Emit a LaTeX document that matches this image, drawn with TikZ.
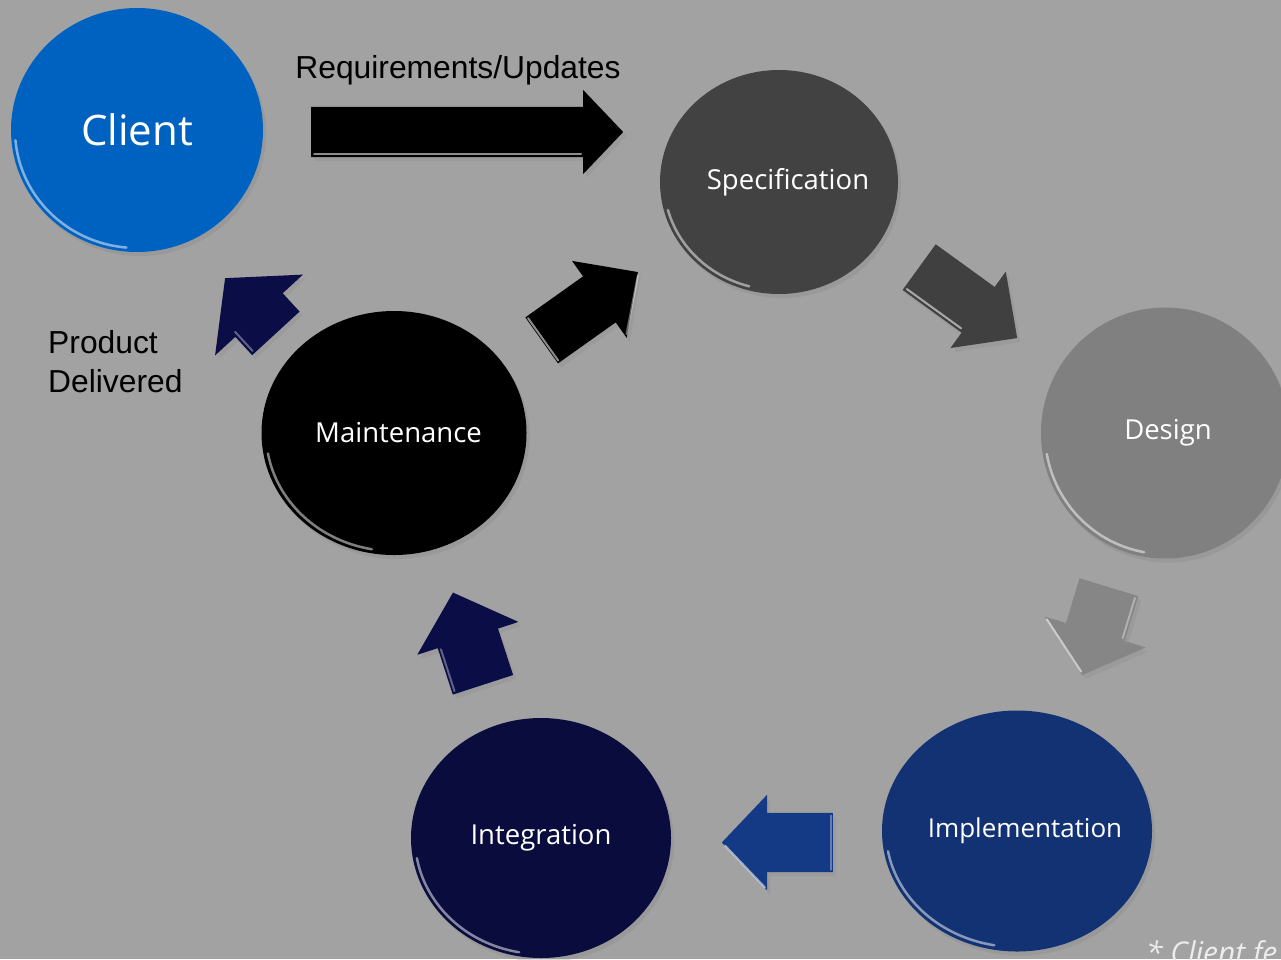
\documentclass[tikz,border=0pt]{standalone}
\usepackage{fontspec}
\setmainfont{Open Sans}
\newfontfamily\arialf{Liberation Sans}
\usetikzlibrary{shapes.geometric,shapes.arrows,shadows,calc}
\definecolor{bg}{RGB}{162,162,162}
\definecolor{clientblue}{RGB}{0,98,192}
\definecolor{specgray}{RGB}{66,66,66}
\definecolor{designgray}{RGB}{128,128,128}
\definecolor{implblue}{RGB}{18,50,116}
\definecolor{integnavy}{RGB}{10,12,62}
\definecolor{arrowgray}{RGB}{64,64,64}
\definecolor{arrowlight}{RGB}{134,134,134}
\definecolor{arrowblue}{RGB}{21,58,133}
\definecolor{arrownavy}{RGB}{11,13,70}
\definecolor{notecol}{RGB}{236,236,236}
\newcommand\rimlight[5]{%
  \draw[white, opacity=.5, line width=2.5pt, line cap=round]
    ([shift={(#4:#2 and #3)}]#1.center) arc[start angle=#4, end angle=#5, x radius=#2, y radius=#3];}
\newcommand\ctext[2]{\makebox[0pt]{\hspace*{#1}#2}}
\begin{document}
\begin{tikzpicture}[x=1pt,y=1pt,
  circ/.style={ellipse, inner sep=0pt, text=white,
    font=\fontsize{27.5}{33}\selectfont,
    drop shadow={shadow xshift=3pt, shadow yshift=-4pt, opacity=.25}},
  barrow/.style={single arrow, inner xsep=0pt, single arrow head indent=0pt,
    anchor=tail,
    drop shadow={shadow xshift=3pt, shadow yshift=-4pt, opacity=.2}},
  hl/.style={white, opacity=.55, line width=2pt, line cap=round},
  lbl/.style={font=\arialf\fontsize{31.8}{39}\selectfont, text=black, inner sep=0pt},
]
\fill[bg] (0,0) rectangle (1281,-959);
\useasboundingbox (0,0) rectangle (1281,-959);

% circles
\node[circ, fill=clientblue, minimum width=252pt, minimum height=244pt,
  font=\fontsize{42}{50}\selectfont] (client) at (137,-130) {\ctext{0pt}{Client}};
\node[circ, fill=specgray, minimum width=238pt, minimum height=224pt] (spec) at (779,-182) {\ctext{18pt}{Specification}};
\node[circ, fill=designgray, minimum width=248pt, minimum height=251pt] (design) at (1165,-433) {\ctext{6pt}{Design}};
\node[circ, fill=implblue, minimum width=270pt, minimum height=241pt,
  font=\fontsize{26}{31}\selectfont] (impl) at (1017,-831) {\ctext{16pt}{Implementation}};
\node[circ, fill=integnavy, minimum width=260pt, minimum height=240pt] (integ) at (541,-838) {\ctext{0pt}{Integration}};
\node[circ, fill=black, minimum width=265pt, minimum height=244pt] (maint) at (394,-433) {\ctext{9pt}{Maintenance}};

\rimlight{client}{122}{118}{185}{265}
\rimlight{spec}{115}{108}{195}{255}
\rimlight{design}{120}{121}{190}{260}
\rimlight{impl}{131}{116}{190}{260}
\rimlight{integ}{126}{116}{190}{260}
\rimlight{maint}{128}{118}{190}{260}

% block arrows
\node[barrow, fill=black, minimum height=312pt, inner ysep=25pt, minimum width=84pt,
  single arrow head extend=17pt, single arrow tip angle=92.8, rotate=0] (a1) at (311,-132) {};
\node[barrow, fill=arrowgray, minimum height=121pt, inner ysep=28pt, minimum width=94pt,
  single arrow head extend=19pt, single arrow tip angle=88.8, rotate=-35.9] (a2) at (919,-267) {};
\node[barrow, fill=arrowlight, minimum height=92pt, inner ysep=30.5pt, minimum width=105pt,
  single arrow head extend=22pt, single arrow tip angle=98.8, rotate=-107] (a3) at (1109,-587) {};
\node[barrow, fill=arrowblue, minimum height=111pt, inner ysep=29.5pt, minimum width=95pt,
  single arrow head extend=18pt, single arrow tip angle=93, rotate=180] (a4) at (833,-842.5) {};
\node[barrow, fill=arrownavy, minimum height=97pt, inner ysep=31.5pt, minimum width=106pt,
  single arrow head extend=21.5pt, single arrow tip angle=95.7, rotate=108] (a5) at (483,-685) {};
\node[barrow, fill=arrownavy, minimum height=75pt, inner ysep=32pt, minimum width=119pt,
  single arrow head extend=27.5pt, single arrow tip angle=100, rotate=132.6] (a6) at (276,-333.5) {};
\node[barrow, fill=black, minimum height=118pt, inner ysep=28pt, minimum width=94pt,
  single arrow head extend=19pt, single arrow tip angle=90, rotate=35.4] (a7) at (541.5,-340.5) {};

% bevel highlights on the arrows (local frame of each arrow)
\begin{scope}[shift={(a1.tail)}, rotate=0]
  \draw[hl] (3,-22) -- (270,-22);
\end{scope}
\begin{scope}[shift={(a2.tail)}, rotate=-35.9]
  \draw[hl] (3,-25) -- (70,-25);
\end{scope}
\begin{scope}[shift={(a3.tail)}, rotate=-107]
  \draw[hl] (49,-50) -- (89,-2);
  \draw[hl, opacity=.35] (3,28) -- (45,28);
\end{scope}
\begin{scope}[shift={(a4.tail)}, rotate=180]
  \draw[hl] (68,45) -- (108,3);
  \draw[hl, opacity=.35] (2,-27) -- (2,27);
\end{scope}
\begin{scope}[shift={(a5.tail)}, rotate=108]
  \draw[hl, opacity=.35] (3,29) -- (47,29);
\end{scope}
\begin{scope}[shift={(a6.tail)}, rotate=132.6]
  \draw[hl, opacity=.35] (3,29) -- (29,29);
\end{scope}
\begin{scope}[shift={(a7.tail)}, rotate=35.4]
  \draw[hl] (2,-26) -- (2,26);
  \draw[hl, opacity=.4] (73,-44) -- (116,-3);
\end{scope}

% labels
\node[lbl] (req) at (458,-70) {Requirements/Updates};
\node[lbl, align=left, anchor=west] (deliv) at (48,-361.5) {Product\\Delivered};
\node[anchor=base west, inner sep=0pt, text=notecol,
  font=\itshape\fontsize{30}{36}\selectfont] (note) at (1146,-963) {* Client fe};
\end{tikzpicture}
\end{document}
